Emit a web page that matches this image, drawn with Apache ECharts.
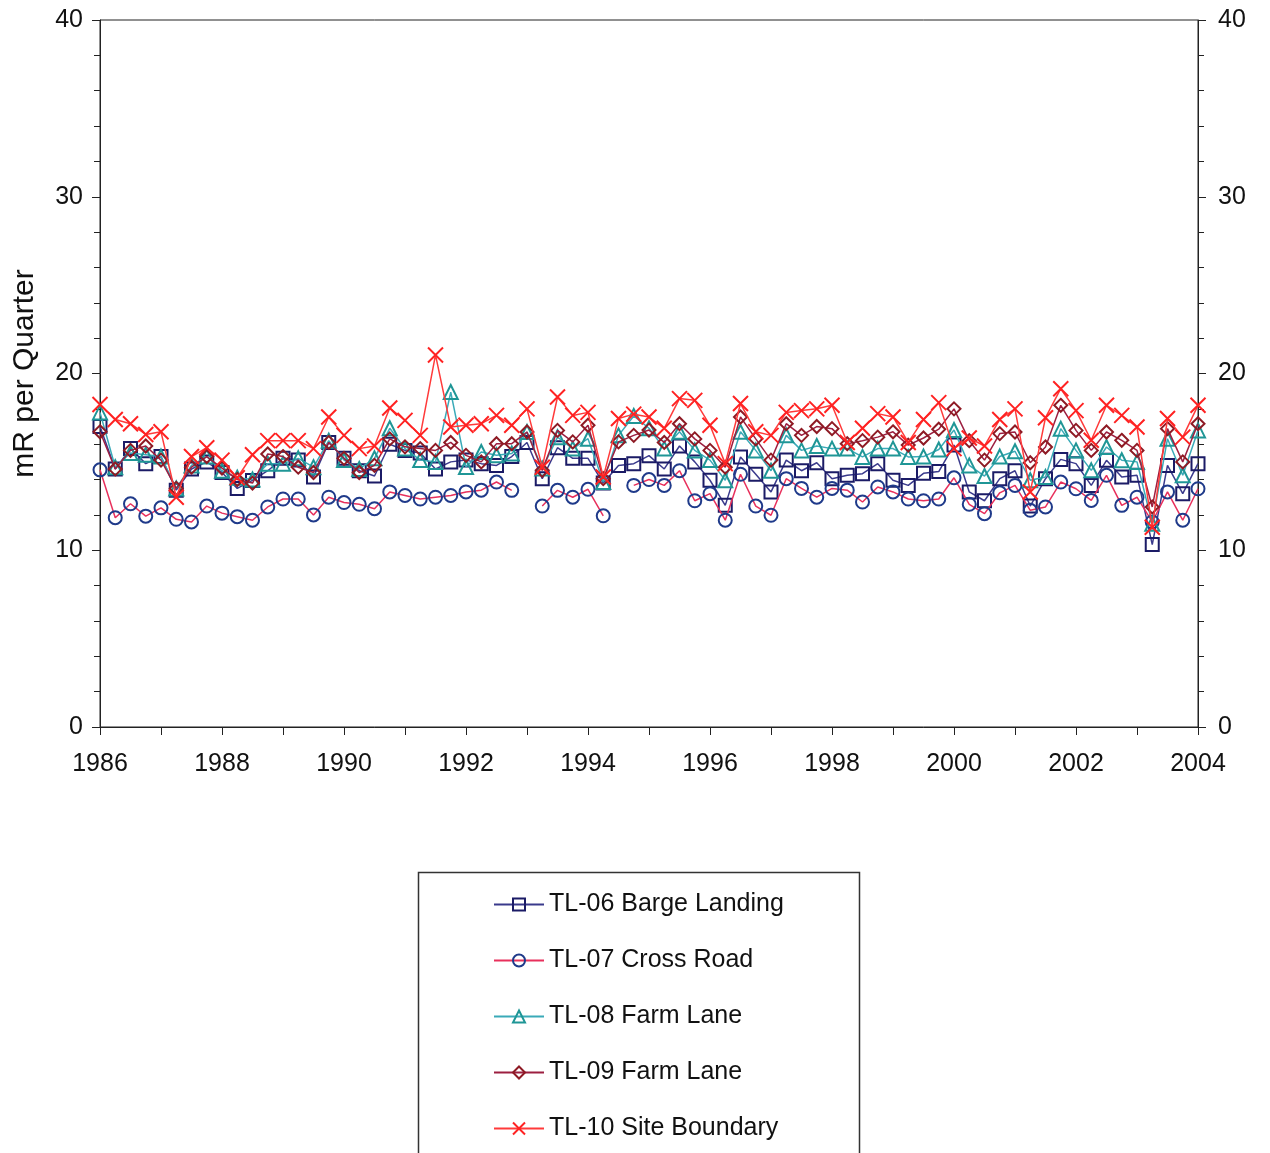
<!DOCTYPE html>
<html><head><meta charset="utf-8">
<script src="https://cdn.jsdelivr.net/npm/echarts@6/dist/echarts.min.js"></script>
<style>html,body{margin:0;padding:0;background:#fff}#c{width:1270px;height:1153px}</style>
</head><body><div id="c"></div>
<script>
// Sampling dates (decimal years, quarterly)
const dates = [1986,1986.25,1986.5,1986.75,1987,1987.25,1987.5,1987.75,1988,1988.25,1988.5,1988.75,
1989,1989.25,1989.5,1989.75,1990,1990.25,1990.5,1990.75,1991,1991.25,1991.5,1991.75,
1992,1992.25,1992.5,1992.75,1993,1993.25,1993.5,1993.75,1994,1994.25,1994.5,1994.75,
1995,1995.25,1995.5,1995.75,1996,1996.25,1996.5,1996.75,1997,1997.25,1997.5,1997.75,
1998,1998.25,1998.5,1998.75,1999,1999.25,1999.5,1999.75,2000,2000.25,2000.5,2000.75,
2001,2001.25,2001.5,2001.75,2002,2002.25,2002.5,2002.75,2003,2003.25,2003.5,2003.75,2004];

const tl06 = [17.0,14.6,15.75,14.9,15.3,13.4,14.6,15.0,14.4,13.5,13.95,14.5,
15.2,15.1,14.15,16.1,15.2,14.5,14.2,16.0,15.65,15.5,14.6,15.0,
15.1,14.9,14.8,15.3,16.1,14.05,15.8,15.2,15.2,13.8,14.8,14.9,
15.35,14.6,15.9,15.0,13.96,12.54,15.28,14.3,13.3,15.1,14.5,14.95,
14.05,14.24,14.33,14.9,13.96,13.67,14.35,14.45,15.95,13.3,12.8,14.05,
14.5,12.5,14.05,15.14,14.9,13.67,15.09,14.14,14.24,10.32,14.8,13.2,14.9];

const tl07 = [14.55,11.84,12.63,11.93,12.4,11.75,11.6,12.5,12.1,11.9,11.7,12.45,
12.9,12.9,12.0,13.0,12.7,12.6,12.35,13.3,13.1,12.9,13.0,13.1,
13.3,13.4,13.86,13.39,null,12.5,13.39,13.0,13.45,11.95,null,13.67,
14.0,13.67,14.5,12.8,13.2,11.7,14.3,12.5,11.98,14.05,13.5,13.0,
13.5,13.4,12.73,13.58,13.3,12.9,12.8,12.9,14.1,12.6,12.07,13.25,
13.67,12.26,12.45,13.86,13.48,12.82,14.24,12.54,13.0,11.6,13.3,11.7,13.48];

const tl08 = [17.8,14.7,15.5,15.4,15.3,13.5,14.8,15.3,14.5,14.1,14.0,14.9,
14.9,15.2,14.7,16.2,15.1,14.6,15.2,16.9,15.75,15.1,15.0,18.95,
14.71,15.56,15.37,15.47,16.69,14.62,16.4,15.75,16.31,13.86,16.5,17.6,
16.9,15.75,16.7,15.65,15.1,13.96,16.7,15.65,14.5,16.5,15.65,15.9,
15.75,15.75,15.28,15.75,15.75,15.28,15.3,15.7,16.8,14.8,14.2,15.3,
15.6,13.96,14.14,16.88,15.65,14.52,15.84,15.09,15.0,11.5,16.31,14.24,16.78];

const tl09 = [16.7,14.6,15.65,15.9,15.1,13.5,14.7,15.3,14.65,14.0,13.8,15.45,
15.3,14.7,14.4,16.1,15.2,14.4,14.8,16.3,15.85,15.75,15.65,16.1,
15.37,15.0,16.03,16.03,16.69,14.52,16.78,16.13,17.07,14.05,16.13,16.5,
16.8,16.1,17.16,16.3,15.65,14.7,17.54,16.3,15.1,17.16,16.5,17.0,
16.88,16.03,16.2,16.4,16.7,15.95,16.35,16.85,18.0,16.2,15.1,16.6,
16.69,14.95,15.84,18.2,16.78,15.65,16.69,16.22,15.65,12.45,16.88,15.0,17.16];

const tl10 = [18.25,17.4,17.16,16.55,16.7,13.0,15.3,15.8,15.1,14.1,15.4,16.2,
16.2,16.2,15.75,17.54,16.5,15.75,15.9,18.05,17.35,16.5,21.05,16.97,
17.07,17.16,17.63,17.07,18.0,14.7,18.67,17.63,17.8,14.14,17.45,17.7,
17.54,16.9,18.58,18.48,17.07,14.9,18.3,16.7,16.5,17.8,17.9,18.0,
18.2,16.1,16.9,17.73,17.54,16.1,17.4,18.35,15.75,16.35,15.9,17.4,
18.0,13.3,17.5,19.14,17.9,16.22,18.2,17.63,16.97,11.3,17.45,16.4,18.2];

const seriesNames = ['TL-06 Barge Landing','TL-07 Cross Road','TL-08 Farm Lane','TL-09 Farm Lane','TL-10 Site Boundary'];
const seriesValues = [tl06, tl07, tl08, tl09, tl10];

const FONT = '"Liberation Sans", Arial, Helvetica, sans-serif';
const styles = [
  {symbol:'rect', size:13, mark:'#1b1b66', line:'#3a3a8c'},
  {symbol:'circle', size:13, mark:'#1f3a8a', line:'#e8305c'},
  {symbol:'triangle', size:14, mark:'#1f9696', line:'#3aaab8'},
  {symbol:'diamond', size:13, mark:'#8e1a24', line:'#9c1f40'},
  {symbol:'path://M0,0L10,10M10,0L0,10', size:15, mark:'#ff2222', line:'#ff3a3a'}
];

const chart = echarts.init(document.getElementById('c'), null, {renderer:'canvas'});

const series = seriesNames.map((name, k) => ({
  name: name,
  type: 'line',
  data: dates.map((d, i) => [d, seriesValues[k][i]]),
  connectNulls: false,
  symbol: styles[k].symbol,
  symbolSize: styles[k].size,
  showAllSymbol: true,
  itemStyle: {color: 'rgba(255,255,255,0)', borderColor: styles[k].mark, borderWidth: 2},
  lineStyle: {color: styles[k].line, width: 1.5},
  emphasis: {disabled: true},
  z: 2 + k
}));

const axisColor = '#222';
const yAxisBase = {
  type: 'value', min: 0, max: 40, interval: 10,
  axisLine: {show: true, lineStyle: {color: axisColor, width: 1}},
  axisTick: {show: true, length: 8, lineStyle: {color: axisColor}},
  minorTick: {show: true, splitNumber: 5, length: 6, lineStyle: {color: axisColor}},
  splitLine: {show: false},
  axisLabel: {fontSize: 25, color: '#111', fontFamily: FONT, margin: 17}
};

chart.setOption({
  animation: false,
  backgroundColor: '#fff',
  grid: {left: 100, right: 72, top: 20, bottom: 426, show: true, borderColor: axisColor, borderWidth: 1},
  xAxis: {
    type: 'value', min: 1986, max: 2004, interval: 2,
    axisLine: {show: true, onZero: false, lineStyle: {color: axisColor, width: 1}},
    axisTick: {show: true, length: 8, lineStyle: {color: axisColor}},
    minorTick: {show: true, splitNumber: 2, length: 8, lineStyle: {color: axisColor}},
    splitLine: {show: false},
    axisLabel: {fontSize: 25, color: '#111', fontFamily: FONT, margin: 25, formatter: v => String(v)}
  },
  yAxis: [
    Object.assign({}, yAxisBase, {position: 'left', name: 'mR per Quarter', nameLocation: 'middle', nameGap: 60,
      nameTextStyle: {fontSize: 30, color: '#111', fontFamily: FONT}}),
    Object.assign({}, yAxisBase, {position: 'right', axisLabel: Object.assign({}, yAxisBase.axisLabel, {margin: 20})})
  ],
  legend: {
    orient: 'vertical', left: 488, top: 887,
    itemWidth: 50, itemHeight: 15, itemGap: 31,
    selectedMode: false,
    textStyle: {fontSize: 25, color: '#111', fontFamily: FONT},
    data: seriesNames
  },
  graphic: [{
    type: 'rect', z: 0,
    shape: {x: 418.5, y: 872.5, width: 441, height: 300},
    style: {fill: 'none', stroke: '#333', lineWidth: 1.5}
  }],
  series: series
});
</script>
</body></html>
